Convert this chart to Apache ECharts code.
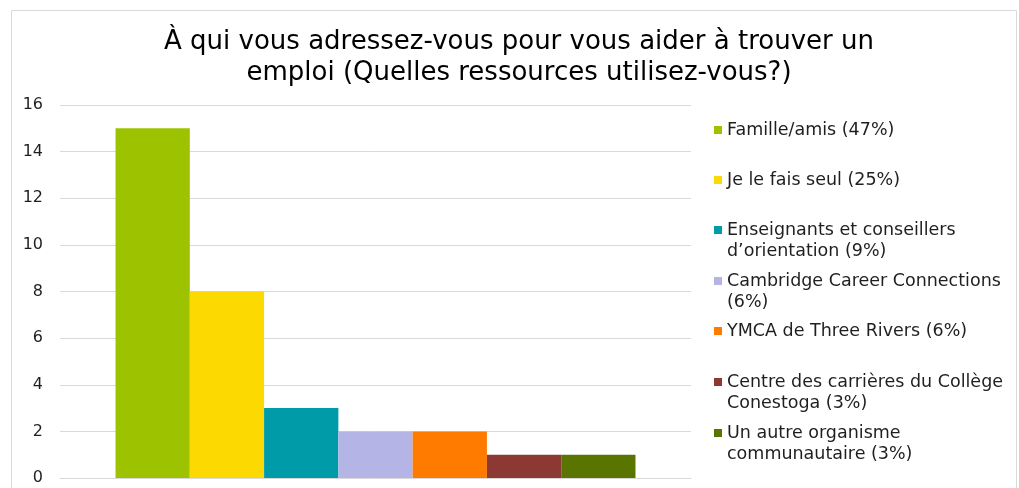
<!DOCTYPE html>
<html>
<head>
<meta charset="utf-8">
<script src="https://cdn.jsdelivr.net/npm/echarts@6/dist/echarts.min.js"></script>
<style>
html,body{margin:0;padding:0;background:#fff;}
#chart{width:1019px;height:488px;}
</style>
</head>
<body>
<div id="chart"></div>
<script>
var titleText = "À qui vous adressez-vous pour vous aider à trouver un\nemploi (Quelles ressources utilisez-vous?)";
var seriesNames = [
  "Famille/amis (47%)",
  "Je le fais seul (25%)",
  "Enseignants et conseillers\nd’orientation (9%)",
  "Cambridge Career Connections\n(6%)",
  "YMCA de Three Rivers (6%)",
  "Centre des carrières du Collège\nConestoga (3%)",
  "Un autre organisme\ncommunautaire (3%)"
];
var seriesValues = [15, 8, 3, 2, 2, 1, 1];
var seriesColors = ["#9dc300", "#fcd900", "#009ba8", "#b4b4e6", "#ff7b00", "#8c3833", "#5a7400"];
var categories = [""];
var yTicks = [0, 2, 4, 6, 8, 10, 12, 14, 16];

var FONT = "DejaVu Sans";
var chart = echarts.init(document.getElementById('chart'), null, {renderer: 'canvas'});

var series = seriesNames.map(function (n, i) {
  return {
    type: 'bar',
    name: n,
    data: [seriesValues[i]],
    itemStyle: {color: seriesColors[i]},
    barGap: '0%',
    barCategoryGap: '17.6%',
    animation: false
  };
});

var legendCenters = [130, 180, 230, 281, 331, 382, 433];
var legends = seriesNames.map(function (n, i) {
  var twoLine = n.indexOf('\n') >= 0;
  return {
    data: [n],
    left: 714,
    top: legendCenters[i] - (twoLine ? 31.5 : 10.5),
    padding: 0,
    orient: 'vertical',
    icon: 'rect',
    itemWidth: 8,
    itemHeight: 8,
    itemGap: 0,
    selectedMode: false,
    formatter: function (name) {
      return name.indexOf('\n') >= 0 ? ' \n' + name : name;
    },
    textStyle: {
      fontFamily: FONT,
      fontSize: 17.5,
      color: '#1f1f1f',
      lineHeight: 21
    }
  };
});

chart.setOption({
  animation: false,
  title: {
    text: titleText,
    left: 514,
    textAlign: 'center',
    top: 22,
    textStyle: {fontFamily: FONT, fontSize: 26, fontWeight: 'normal', color: '#000', lineHeight: 31}
  },
  graphic: [{
    type: 'rect',
    shape: {x: 11.5, y: 10.5, width: 1005, height: 490},
    style: {fill: 'none', stroke: '#d9d9d9', lineWidth: 1},
    silent: true
  }],
  legend: legends,
  grid: {left: 60, right: 328, top: 105, bottom: 10, containLabel: false},
  xAxis: {
    type: 'category',
    data: categories,
    axisLine: {show: true, lineStyle: {color: '#d9d9d9', width: 1}},
    axisTick: {show: false},
    axisLabel: {show: false}
  },
  yAxis: {
    type: 'value',
    min: yTicks[0],
    max: yTicks[yTicks.length - 1],
    interval: 2,
    axisLine: {show: false},
    axisTick: {show: false},
    splitLine: {lineStyle: {color: '#d9d9d9', width: 1}},
    axisLabel: {fontFamily: FONT, fontSize: 16, color: '#1f1f1f', margin: 17}
  },
  series: series
});
</script>
</body>
</html>
